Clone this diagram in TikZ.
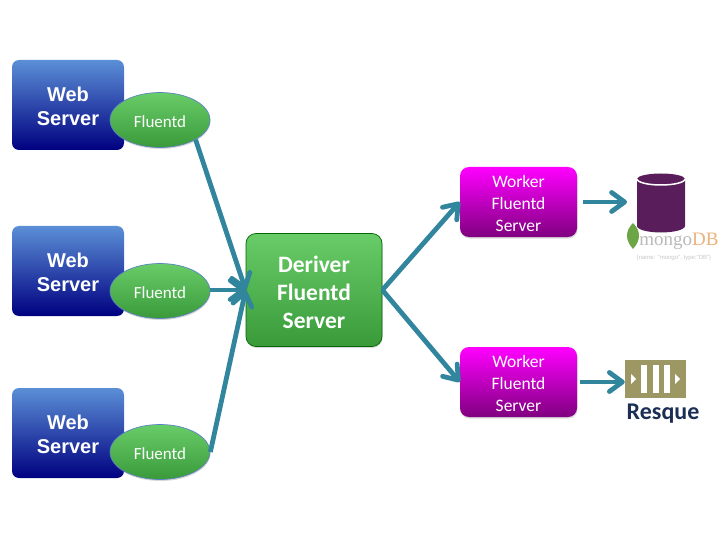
\documentclass[tikz,border=0pt]{standalone}
\usepackage{fontspec}
\setmainfont{Carlito}
\newfontfamily\arialfont{Liberation Sans}
\newfontfamily\seriffont{Liberation Serif}
\usetikzlibrary{shapes.geometric, arrows.meta, positioning, shadows}

\definecolor{flowteal}{HTML}{31859C}
\definecolor{dbpurple}{HTML}{5A1D5C}
\definecolor{queueolive}{HTML}{9C9763}
\definecolor{resquenavy}{HTML}{1B2F55}
\definecolor{webtop}{HTML}{5B8FD6}
\definecolor{webbottom}{HTML}{000080}
\definecolor{greentop}{HTML}{68CC68}
\definecolor{greenbottom}{HTML}{3A9A3A}
\definecolor{agentline}{HTML}{5B85C0}
\definecolor{leafgreen}{HTML}{6BA545}

\newcommand{\lowline}{\rule{0pt}{0.9em}}

\begin{document}
\begin{tikzpicture}[x=1pt, y=-1pt, node distance=21pt, line join=round,
    softshadow/.style={drop shadow={shadow xshift=0.5pt, shadow yshift=-1.5pt, opacity=0.3}},
    webbox/.style={rectangle, rounded corners=7pt, minimum width=112pt, minimum height=90pt, top color=webtop, bottom color=webbottom, draw=none, text=white, align=center, font=\arialfont\bfseries\fontsize{20}{24}\selectfont},
    agent/.style={ellipse, minimum width=100pt, minimum height=55pt, inner sep=0pt, top color=greentop, bottom color=greenbottom, draw=agentline, line width=0.7pt, text=white, softshadow, font=\fontsize{17}{18}\selectfont},
    deriverbox/.style={rectangle, rounded corners=10pt, minimum width=136pt, minimum height=113pt, top color=greentop, bottom color=greenbottom, draw=green!40!black, line width=0.7pt, text=white, softshadow, align=center, font=\bfseries\fontsize{23.5}{28}\selectfont},
    workerbox/.style={rectangle, rounded corners=9pt, minimum width=117pt, minimum height=70pt, top color=magenta, bottom color=magenta!50!black, draw=none, text=white, softshadow, align=center, font=\fontsize{17.5}{22}\selectfont},
    flow/.style={draw=flowteal, line width=4.8pt, -{Straight Barb[length=13pt, width=19pt, line width=4.8pt, round]}},
    bar/.style={fill=white, draw=none, minimum width=6pt, minimum height=28pt, inner sep=0pt}]

  \useasboundingbox (0,0) rectangle (720,540);

  \node[webbox] (web1) at (68,105) {\lowline Web\\Server};
  \node[webbox] (web2) at (68,271) {\lowline Web\\Server};
  \node[webbox] (web3) at (68,433) {\lowline Web\\Server};

  \node[agent] (fluent1) at (160,120) {\lowline Fluentd};
  \node[agent] (fluent2) at (160,291) {\lowline Fluentd};
  \node[agent] (fluent3) at (160,452) {\lowline Fluentd};

  \node[deriverbox] (deriver) at (314,290) {\lowline Deriver\\Fluentd\\Server};

  \node[workerbox] (worker1) at (518.5,202) {\lowline Worker\\Fluentd\\Server};
  \node[workerbox] (worker2) at (518.5,382) {\lowline Worker\\Fluentd\\Server};

  % mongo side
  \fill[dbpurple] (637,179) arc[start angle=180, end angle=0, x radius=24, y radius=-5.5] -- (685,226) arc[start angle=0, end angle=180, x radius=24, y radius=6.5] -- cycle;
  \draw[white, line width=1.5pt] (637,179) arc[start angle=180, end angle=360, x radius=24, y radius=-6];
  \coordinate (dbin) at (627,202);
  \node[inner sep=0pt, font=\seriffont\fontsize{19}{19}\selectfont, text=gray!55] (mongo) at (679,241) {mongo\textcolor{orange!50!brown!60!white}{DB}};
  \node[inner sep=0pt, font=\arialfont\fontsize{6}{6}\selectfont, text=gray!45, below=5pt of mongo, xshift=-5pt] (mongocap) {\{name: "mongo", type:"DB"\}};
  \fill[leafgreen] (633,249) .. controls (625,240) and (625,231) .. (633,223) .. controls (641,231) and (641,240) .. (633,249);

  % resque side
  \node[rectangle, fill=queueolive, minimum width=61pt, minimum height=38pt, inner sep=0pt] (queue) at (655.5,379) {};
  \node[bar] (bar2) at (queue) {};
  \node[bar, left=5.5pt of bar2] (bar1) {};
  \node[bar, right=5.5pt of bar2] (bar3) {};
  \fill[white] (631,374) -- (636,379) -- (631,384) -- cycle;
  \fill[white] (675,374) -- (680,379) -- (675,384) -- cycle;
  \node[inner sep=0pt, text=resquenavy, font=\bfseries\fontsize{24}{24}\selectfont, below=6pt of queue, xshift=7.5pt] (resque) {Resque};

  \draw[flow] (fluent1.south east) -- (deriver.west);
  \draw[flow] (fluent2.east |- deriver.west) -- (deriver.west);
  \draw[flow] (fluent3.east) -- (deriver.west);
  \draw[flow] (deriver.east) -- (worker1.west);
  \draw[flow] (deriver.east) -- (worker2.west);
  \draw[flow] ([xshift=6pt]worker1.east) -- (dbin);
  \draw[flow] ([xshift=3pt]worker2.east) -- (queue.west |- worker2.east);
\end{tikzpicture}
\end{document}
